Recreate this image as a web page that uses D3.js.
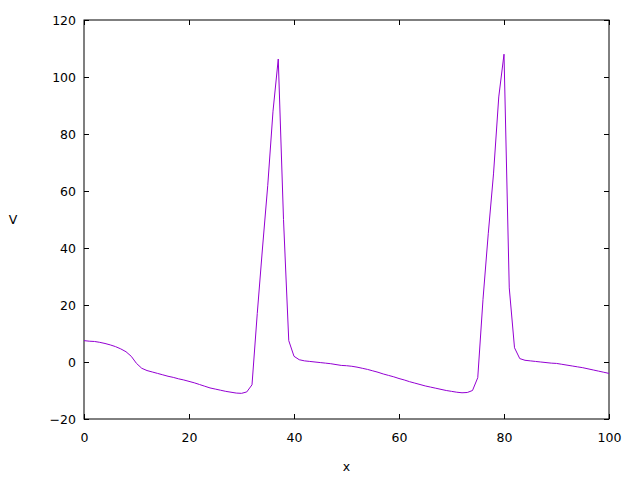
<!DOCTYPE html>
<html>
<head>
<meta charset="utf-8">
<script src="https://cdn.jsdelivr.net/npm/d3@7"></script>
<style>
  html, body { margin: 0; padding: 0; background: #ffffff; }
  svg { display: block; }
</style>
</head>
<body>
<svg id="chart" width="640" height="480"></svg>
<script>
const xs = d3.range(0, 101);

const voltage = [
  7.5, 7.3, 7.2, 6.9, 6.5, 6.0, 5.4, 4.6, 3.6, 2.0,
  -0.5, -2.2, -3.0, -3.5, -4.0, -4.5, -5.0, -5.4, -5.9, -6.3,
  -6.8, -7.3, -7.9, -8.5, -9.1, -9.5, -9.9, -10.3, -10.6, -10.9,
  -11.0, -10.5, -8.0, 17, 40, 62, 88, 106.3, 50, 7.5,
  2.0, 0.8, 0.4, 0.2, 0.0, -0.2, -0.4, -0.6, -0.9, -1.2,
  -1.3, -1.5, -1.8, -2.2, -2.6, -3.1, -3.6, -4.2, -4.7, -5.2,
  -5.8, -6.3, -6.9, -7.4, -7.9, -8.4, -8.8, -9.2, -9.6, -10.0,
  -10.3, -10.6, -10.8, -10.7, -10.0, -5.5, 22, 45, 66, 93,
  108, 26, 5, 1.2, 0.6, 0.4, 0.2, 0.0, -0.2, -0.4,
  -0.5, -0.8, -1.1, -1.4, -1.7, -2.0, -2.4, -2.8, -3.2, -3.6,
  -4.0
];

const xTicks = [0, 20, 40, 60, 80, 100];
const yTicks = [-20, 0, 20, 40, 60, 80, 100, 120];

const LEFT = 84;
const RIGHT = 609;
const TOP = 20;
const BOTTOM = 419;
const TICK = 5;
const FONT = 'DejaVu Sans, sans-serif';

const root = d3.select('#chart');

const x = d3.scaleLinear().domain([0, 100]).range([LEFT, RIGHT]);
const y = d3.scaleLinear().domain([-20, 120]).range([BOTTOM, TOP]);

// ticks on all four sides, pointing inward
const axes = [
  { axis: d3.axisBottom(x).tickValues(xTicks).tickSize(-TICK).tickPadding(14), at: `translate(0, ${BOTTOM})`, labels: true },
  { axis: d3.axisTop(x).tickValues(xTicks).tickSize(-TICK), at: `translate(0, ${TOP})`, labels: false },
  { axis: d3.axisLeft(y).tickValues(yTicks).tickSize(-TICK).tickPadding(8), at: `translate(${LEFT}, 0)`, labels: true },
  { axis: d3.axisRight(y).tickValues(yTicks).tickSize(-TICK), at: `translate(${RIGHT}, 0)`, labels: false }
];

axes.forEach((a) => {
  const g = root.append('g')
    .attr('transform', a.at)
    .call(a.axis);
  g.select('.domain').remove();
  g.selectAll('.tick line').attr('stroke', '#000000').attr('stroke-width', 1);
  if (a.labels) {
    g.selectAll('.tick text')
      .attr('fill', '#000000')
      .attr('font-size', 12.5)
      .attr('font-family', FONT);
  } else {
    g.selectAll('.tick text').remove();
  }
});

root.append('rect')
  .attr('x', LEFT)
  .attr('y', TOP)
  .attr('width', RIGHT - LEFT)
  .attr('height', BOTTOM - TOP)
  .attr('fill', 'none')
  .attr('stroke', '#000000')
  .attr('stroke-width', 1);

const line = d3.line()
  .x((d, i) => x(xs[i]))
  .y((d) => y(d));

root.append('path')
  .datum(voltage)
  .attr('d', line)
  .attr('fill', 'none')
  .attr('stroke', '#9400d3')
  .attr('stroke-width', 1);

root.append('text')
  .attr('x', (LEFT + RIGHT) / 2)
  .attr('y', 466)
  .attr('text-anchor', 'middle')
  .attr('dominant-baseline', 'central')
  .attr('font-size', 12.5)
  .attr('font-family', FONT)
  .text('x');

root.append('text')
  .attr('x', 13)
  .attr('y', (TOP + BOTTOM) / 2)
  .attr('text-anchor', 'middle')
  .attr('dominant-baseline', 'central')
  .attr('font-size', 12.5)
  .attr('font-family', FONT)
  .text('V');
</script>
</body>
</html>
